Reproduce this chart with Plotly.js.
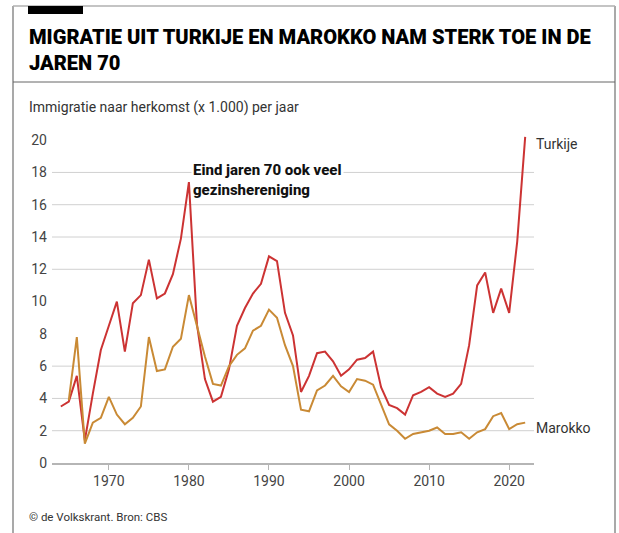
<!DOCTYPE html>
<html>
<head>
<meta charset="utf-8">
<script src="https://cdn.plot.ly/plotly-3.0.1.min.js"></script>
<style>html,body{margin:0;padding:0;background:#fff;}#chart{width:619px;height:533px;}</style>
</head>
<body>
<div id="chart"></div>
<script>
const years = [1964,1965,1966,1967,1968,1969,1970,1971,1972,1973,1974,1975,1976,1977,1978,1979,1980,1981,1982,1983,1984,1985,1986,1987,1988,1989,1990,1991,1992,1993,1994,1995,1996,1997,1998,1999,2000,2001,2002,2003,2004,2005,2006,2007,2008,2009,2010,2011,2012,2013,2014,2015,2016,2017,2018,2019,2020,2021,2022];
const turkije = [3.5,3.8,5.4,1.4,4.3,7.0,8.5,10.0,6.9,9.9,10.4,12.6,10.2,10.5,11.7,13.9,17.4,8.6,5.2,3.8,4.1,5.8,8.5,9.6,10.5,11.1,12.8,12.5,9.3,7.9,4.4,5.4,6.8,6.9,6.3,5.4,5.8,6.4,6.5,6.9,4.7,3.6,3.4,3.0,4.2,4.4,4.7,4.3,4.1,4.3,4.9,7.3,11.0,11.8,9.3,10.8,9.3,13.7,20.2];
const marokko = [null,3.9,7.8,1.2,2.5,2.8,4.1,3.0,2.4,2.8,3.5,7.8,5.7,5.8,7.2,7.7,10.4,8.5,6.6,4.9,4.8,6.0,6.7,7.1,8.2,8.5,9.5,9.0,7.3,6.0,3.3,3.2,4.5,4.8,5.4,4.75,4.4,5.2,5.1,4.85,3.6,2.4,2.0,1.5,1.8,1.9,2.0,2.2,1.8,1.8,1.9,1.5,1.9,2.1,2.9,3.1,2.1,2.4,2.5];
const xTickVals = [1970,1980,1990,2000,2010,2020];
const yTickVals = [0,2,4,6,8,10,12,14,16,18,20];
const gridVals = [2,4,6,12,14,16,18];
const seriesNames = ['Turkije','Marokko'];
const titleText = 'MIGRATIE UIT TURKIJE EN MAROKKO NAM STERK TOE IN DE<br>JAREN 70';
const subtitleText = 'Immigratie naar herkomst (x 1.000) per jaar';
const noteText = 'Eind jaren 70 ook veel<br>gezinshereniging';
const sourceText = '© de Volkskrant. Bron: CBS';

const W = 619, H = 533;
const M = {l: 52, r: 85, t: 124, b: 70};
const pw = W - M.l - M.r, ph = H - M.t - M.b;
const px = x => (x - M.l) / pw;
const py = y => (H - M.b - y) / ph;

const red = '#cc3333', gold = '#c98a35';
const font = 'Roboto, "Liberation Sans", sans-serif';

const traces = [
  {x: years, y: turkije, type: 'scatter', mode: 'lines', name: seriesNames[0], line: {color: red, width: 2}, hoverinfo: 'x+y'},
  {x: years, y: marokko, type: 'scatter', mode: 'lines', name: seriesNames[1], line: {color: gold, width: 2}, hoverinfo: 'x+y'}
];

const shapes = gridVals.map(v => ({type: 'line', xref: 'paper', yref: 'y', x0: 0, x1: 1, y0: v, y1: v, line: {color: '#d0d0d0', width: 1}, layer: 'below'}));
const frameColor = '#8c8c8c';
shapes.push(
  {type: 'line', xref: 'paper', yref: 'paper', x0: px(13), x1: px(13), y0: py(6), y1: py(540), line: {color: frameColor, width: 1.5}},
  {type: 'line', xref: 'paper', yref: 'paper', x0: px(615), x1: px(615), y0: py(6), y1: py(540), line: {color: frameColor, width: 1.5}},
  {type: 'line', xref: 'paper', yref: 'paper', x0: px(13), x1: px(615), y0: py(6), y1: py(6), line: {color: '#b0b0b0', width: 1.5}},
  {type: 'line', xref: 'paper', yref: 'paper', x0: px(13), x1: px(615), y0: py(82), y1: py(82), line: {color: '#666', width: 1}},
  {type: 'rect', xref: 'paper', yref: 'paper', x0: px(28), x1: px(83), y0: py(6), y1: py(14), fillcolor: '#000', line: {width: 0}}
);

const annotations = [
  {xref: 'paper', yref: 'paper', x: px(27), y: py(23), xanchor: 'left', yanchor: 'top', align: 'left', showarrow: false,
   text: titleText, font: {family: font, size: 20.1, color: '#000', weight: 900}},
  {xref: 'paper', yref: 'paper', x: px(27), y: py(97), xanchor: 'left', yanchor: 'top', align: 'left', showarrow: false,
   text: subtitleText, font: {family: font, size: 14, color: '#333'}},
  {xref: 'paper', yref: 'paper', x: px(27), y: py(508), xanchor: 'left', yanchor: 'top', align: 'left', showarrow: false,
   text: sourceText, font: {family: font, size: 11.5, color: '#333'}},
  {xref: 'x', yref: 'y', x: 1980.3, y: 18.85, xanchor: 'left', yanchor: 'top', align: 'left', showarrow: false,
   text: noteText, font: {family: font, size: 15, color: '#111', weight: 800}, bgcolor: '#fff', borderpad: 1},
  {xref: 'paper', yref: 'y', x: px(534), y: 19.75, xanchor: 'left', yanchor: 'middle', showarrow: false,
   text: seriesNames[0], font: {family: font, size: 14, color: '#333'}},
  {xref: 'paper', yref: 'y', x: px(534), y: 2.15, xanchor: 'left', yanchor: 'middle', showarrow: false,
   text: seriesNames[1], font: {family: font, size: 14, color: '#333'}}
];

const layout = {
  width: W, height: H,
  margin: M,
  paper_bgcolor: '#fff', plot_bgcolor: '#fff',
  showlegend: false,
  font: {family: font},
  xaxis: {
    range: [1962.9, 2023.1], tickvals: xTickVals, ticktext: xTickVals.map(String),
    showgrid: false, zeroline: false, showline: true, linecolor: '#b5b5b5', linewidth: 1.5,
    ticks: 'outside', ticklen: 5, tickcolor: '#b5b5b5', tickwidth: 1,
    tickfont: {family: font, size: 14, color: '#444'}, fixedrange: true
  },
  yaxis: {
    range: [0, 21], tickvals: yTickVals, ticktext: yTickVals.map(String),
    showgrid: false, zeroline: false, showline: false, ticks: '',
    ticklabelstandoff: 4,
    tickfont: {family: font, size: 14, color: '#444'}, fixedrange: true
  },
  shapes: shapes,
  annotations: annotations
};

Plotly.newPlot('chart', traces, layout, {displayModeBar: false, staticPlot: true});
</script>
</body>
</html>
